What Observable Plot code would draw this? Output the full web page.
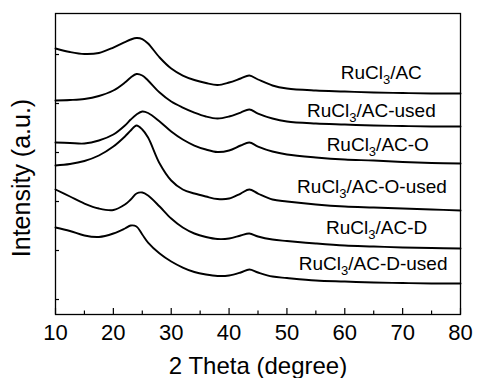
<!DOCTYPE html>
<html><head><meta charset="utf-8">
<script src="https://cdn.jsdelivr.net/npm/d3@7"></script>
<script src="https://cdn.jsdelivr.net/npm/@observablehq/plot@0.6"></script>
<style>body{margin:0;background:#fff}</style>
</head><body><div id="chart"></div>
<script>
// 2θ sampling positions (degree)
const twoTheta = [10,12.5,15,17.5,20,22,23,24,25,26,28,30,32,34,36,38,40,42,43.5,45,47.5,50,55,60,65,70,75,80];
// stacked intensities (a.u.)
const acFresh   = [5.122,5.051,5.010,5.031,5.143,5.255,5.306,5.337,5.316,5.224,4.939,4.714,4.571,4.480,4.418,4.378,4.429,4.510,4.571,4.490,4.367,4.306,4.265,4.245,4.224,4.214,4.204,4.204];
const acUsed    = [4.061,4.071,4.092,4.153,4.265,4.429,4.531,4.602,4.571,4.469,4.224,4.041,3.918,3.816,3.735,3.694,3.735,3.816,3.878,3.796,3.694,3.633,3.592,3.571,3.551,3.541,3.531,3.531];
const acO       = [3.204,3.194,3.184,3.245,3.367,3.551,3.673,3.776,3.837,3.806,3.633,3.429,3.265,3.143,3.061,3.010,3.041,3.143,3.204,3.122,3.020,2.959,2.898,2.857,2.837,2.806,2.786,2.776];
const acOUsed   = [2.735,2.765,2.827,2.939,3.122,3.327,3.449,3.551,3.469,3.306,2.776,2.429,2.245,2.163,2.102,2.051,2.061,2.163,2.245,2.163,2.041,2.000,1.939,1.898,1.878,1.857,1.837,1.816];
const acD       = [2.245,2.102,1.959,1.857,1.827,1.939,2.041,2.163,2.184,2.122,1.898,1.653,1.469,1.347,1.276,1.235,1.245,1.306,1.347,1.286,1.224,1.194,1.143,1.102,1.082,1.061,1.051,1.041];
const acDUsed   = [1.469,1.398,1.306,1.276,1.347,1.449,1.510,1.490,1.327,1.163,0.939,0.776,0.653,0.561,0.510,0.480,0.490,0.551,0.612,0.551,0.469,0.439,0.388,0.367,0.347,0.337,0.327,0.327];

const seriesNames = ["RuCl₃/AC","RuCl₃/AC-used","RuCl₃/AC-O","RuCl₃/AC-O-used","RuCl₃/AC-D","RuCl₃/AC-D-used"];
const seriesValues = [acFresh, acUsed, acO, acOUsed, acD, acDUsed];
// label anchor positions (2θ, intensity)
const labelTheta = [66.3, 64.6, 65.7, 64.7, 65.5, 64.9];
const labelIntensity = [4.622, 3.847, 3.153, 2.296, 1.459, 0.724];

const majorTicks = [10,20,30,40,50,60,70,80];
const minorTicks = [15,25,35,45,55,65,75];
const yTicks = [0,1,2,3,4,5];
const xTitle = "2 Theta (degree)";
const yTitle = "Intensity (a.u.)";

const rows = [];
seriesNames.forEach((name, i) => twoTheta.forEach((t, j) => rows.push({series: name, t, v: seriesValues[i][j]})));
const labelRows = seriesNames.map((name, i) => ({name, t: labelTheta[i], v: labelIntensity[i]}));

const chart = Plot.plot({
  width: 477, height: 378,
  marginLeft: 55, marginRight: 17, marginTop: 13, marginBottom: 64,
  style: {fontFamily: "'Liberation Sans', Arial, sans-serif", background: "white", color: "black"},
  x: {domain: [10, 80]},
  y: {domain: [-0.306, 5.837]},
  marks: [
    Plot.line(rows, {x: "t", y: "v", z: "series", stroke: "black", strokeWidth: 1.9, curve: "catmull-rom"}),
    Plot.frame({stroke: "black", strokeWidth: 1.3}),
    Plot.axisX({ticks: majorTicks, tickSize: 0, tickPadding: 10, fontSize: 22, label: null, tickFormat: d => String(d)}),
    Plot.axisX({ticks: majorTicks, tickSize: -6, text: null, label: null, strokeWidth: 1.2}),
    Plot.axisX({ticks: minorTicks, tickSize: -3.5, text: null, label: null, strokeWidth: 1.2}),
    Plot.axisX({ticks: [], label: xTitle, labelAnchor: "center", labelOffset: 59, labelArrow: "none", fontSize: 24}),
    Plot.axisY({ticks: yTicks, tickSize: -4, text: null, label: null, strokeWidth: 1.2}),
    Plot.text([yTitle], {frameAnchor: "left", rotate: -90, dx: -34, dy: 14, fontSize: 25, lineAnchor: "middle", textAnchor: "middle", fill: "black"}),
    Plot.text(labelRows, {x: "t", y: "v", text: "name", fontSize: 19, textAnchor: "middle", fill: "black"})
  ]
});
document.getElementById("chart").appendChild(chart);

// render the "3" in RuCl3 as a real subscript
chart.querySelectorAll("text").forEach(el => {
  const s = el.textContent;
  if (s.includes("₃") && el.children.length === 0) {
    const [a, b] = s.split("₃");
    el.textContent = "";
    const ns = "http://www.w3.org/2000/svg";
    const t1 = document.createElementNS(ns, "tspan"); t1.textContent = a;
    const t2 = document.createElementNS(ns, "tspan"); t2.textContent = "3";
    t2.setAttribute("dy", "5"); t2.setAttribute("font-size", "13");
    const t3 = document.createElementNS(ns, "tspan"); t3.textContent = b;
    t3.setAttribute("dy", "-5");
    el.append(t1, t2, t3);
  }
});
</script>
</body></html>
